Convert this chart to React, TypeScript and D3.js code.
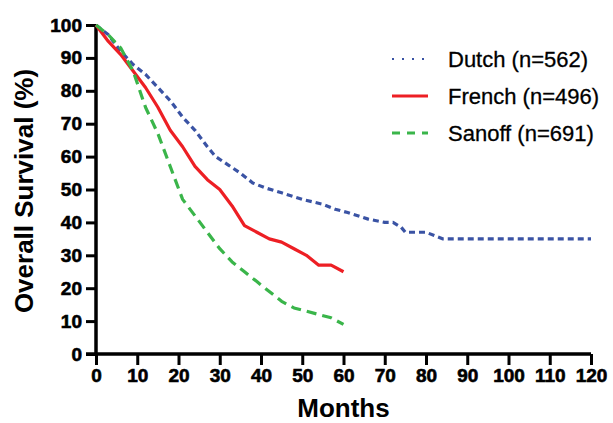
import React, { useEffect, useRef } from 'react';
import * as d3 from 'd3';

const width = 613;
const height = 423;
const margin = { top: 25, right: 22, bottom: 69, left: 96 };
const blue = '#3a53a4';
const red = '#ed1f24';
const green = '#3ab54a';

// months / survival %
const dutchMonths = [0, 3, 6, 9, 12, 15, 18, 21, 24, 27, 29, 32, 35, 38, 41, 45, 50, 55, 58, 61, 66, 70, 72, 74, 75, 80, 82, 84, 120];
const dutchSurv = [100, 97, 92, 88, 85, 81, 77, 72, 68, 63, 60, 57.5, 55, 52, 50.5, 49, 47, 45.5, 44, 43, 41, 40, 40, 38.5, 37, 37, 36, 35, 35];
const frenchMonths = [0, 3, 6, 9, 12, 15, 18, 21, 24, 27, 30, 33, 36, 39, 42, 45, 48, 51, 54, 57, 60];
const frenchSurv = [100, 95, 91, 86, 81, 75, 68, 63, 57, 53, 50, 45, 39, 37, 35, 34, 32, 30, 27, 27, 25];
const sanoffMonths = [0, 3, 6, 9, 12, 15, 18, 21, 24, 27, 30, 33, 36, 39, 42, 45, 48, 51, 54, 57, 60];
const sanoffSurv = [100, 97, 93, 86, 75, 67, 57, 47, 42, 37, 32, 28, 25, 22, 19, 16, 14, 13, 12, 11, 9];

const xTicks = d3.range(0, 121, 10);
const yTicks = d3.range(0, 101, 10);

const series = [
  { name: 'Dutch (n=562)', months: dutchMonths, surv: dutchSurv, color: blue, dash: '6,4' },
  { name: 'French (n=496)', months: frenchMonths, surv: frenchSurv, color: red, dash: null },
  { name: 'Sanoff (n=691)', months: sanoffMonths, surv: sanoffSurv, color: green, dash: '10,6' },
];

const xScale = d3.scaleLinear().domain([0, 120]).range([margin.left, width - margin.right]);
const yScale = d3.scaleLinear().domain([0, 100]).range([height - margin.bottom, margin.top]);

export default function App() {
  const xAxisRef = useRef<SVGGElement>(null);
  const yAxisRef = useRef<SVGGElement>(null);

  useEffect(() => {
    const xAxis = d3.axisBottom(xScale).tickValues(xTicks).tickSize(11).tickPadding(4);
    const yAxis = d3.axisLeft(yScale).tickValues(yTicks).tickSize(10).tickPadding(4);
    const style = (g: any) => {
      g.select('.domain').attr('stroke', '#000').attr('stroke-width', 3.5);
      g.selectAll('.tick line').attr('stroke', '#000').attr('stroke-width', 3);
      g.selectAll('.tick text')
        .attr('fill', '#000')
        .attr('stroke', '#000')
        .attr('stroke-width', 0.6)
        .style('font-family', '"Liberation Sans", Arial, sans-serif')
        .style('font-weight', 'bold')
        .style('font-size', '19px');
    };
    d3.select(xAxisRef.current).call(xAxis).call(style);
    d3.select(yAxisRef.current).call(yAxis).call(style);
    d3.select(xAxisRef.current).select('.domain').attr('d', `M${margin.left - 10},0H${width - margin.right}`);
    d3.select(yAxisRef.current).select('.domain').attr('d', `M0,${height - margin.bottom}V${margin.top}`);
  }, []);

  const line = d3.line<[number, number]>()
    .x(d => xScale(d[0]))
    .y(d => yScale(d[1]));

  return (
    <svg width={width} height={height} style={{ position: 'absolute', left: 0, top: 0, background: '#fff' }}
      fontFamily='"Liberation Sans", Arial, sans-serif'>
      <g ref={xAxisRef} transform={`translate(0, ${height - margin.bottom})`} />
      <g ref={yAxisRef} transform={`translate(${margin.left}, 0)`} />
      {series.map(s => (
        <path key={s.name}
          d={line(s.months.map((m, i) => [m, s.surv[i]] as [number, number])) || ''}
          fill='none' stroke={s.color} strokeWidth={3.2}
          strokeDasharray={s.dash || undefined} strokeLinejoin='round' />
      ))}
      {series.map((s, i) => (
        <g key={'lg' + s.name} transform={`translate(392, ${59 + i * 37})`}>
          <line x1={0} x2={36} y1={0} y2={0} stroke={s.color}
            strokeWidth={i === 0 ? 2 : 3}
            strokeDasharray={i === 0 ? '2,8' : i === 2 ? '8,7' : undefined} />
          <text x={56} y={8} fontSize={22} fill='#000' stroke='#000' strokeWidth={0.3}>{s.name}</text>
        </g>
      ))}
      <text x={(margin.left + width - margin.right) / 2} y={417} textAnchor='middle'
        fontSize={26} fontWeight='bold'>Months</text>
      <text transform={`translate(33, ${191}) rotate(-90)`} textAnchor='middle'
        fontSize={26} fontWeight='bold'>Overall Survival (%)</text>
    </svg>
  );
}
